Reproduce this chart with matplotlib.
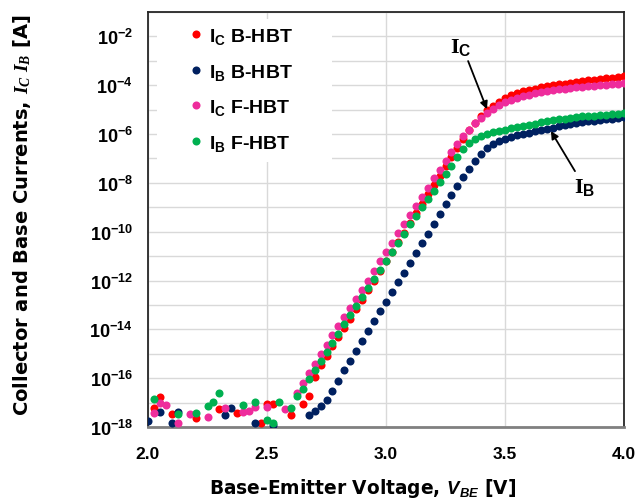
import numpy as np
import matplotlib
matplotlib.use("Agg")
import matplotlib.pyplot as plt
from matplotlib.patches import Rectangle
from matplotlib.ticker import FixedLocator, FuncFormatter, NullFormatter

plt.rcParams["mathtext.fontset"] = "custom"
plt.rcParams["mathtext.rm"] = "Liberation Sans:bold"
plt.rcParams["mathtext.bf"] = "Liberation Sans:bold"
plt.rcParams["mathtext.it"] = "Liberation Serif:bold:italic"
plt.rcParams["mathtext.sf"] = "Liberation Sans:bold:italic"
plt.rcParams["mathtext.tt"] = "Liberation Serif:bold"

# Base-emitter voltage sweep [V]
vbe = [2.000, 2.025, 2.050, 2.075, 2.100, 2.125, 2.150, 2.175, 2.200, 2.225,
       2.250, 2.275, 2.300, 2.325, 2.350, 2.375, 2.400, 2.425, 2.450, 2.475,
       2.500, 2.525, 2.550, 2.575, 2.600, 2.625, 2.650, 2.675, 2.700, 2.725,
       2.750, 2.775, 2.800, 2.825, 2.850, 2.875, 2.900, 2.925, 2.950, 2.975,
       3.000, 3.025, 3.050, 3.075, 3.100, 3.125, 3.150, 3.175, 3.200, 3.225,
       3.250, 3.275, 3.300, 3.325, 3.350, 3.375, 3.400, 3.425, 3.450, 3.475,
       3.500, 3.525, 3.550, 3.575, 3.600, 3.625, 3.650, 3.675, 3.700, 3.725,
       3.750, 3.775, 3.800, 3.825, 3.850, 3.875, 3.900, 3.925, 3.950, 3.975,
       4.000]

# log10 of measured current [A]; None = below floor / not measurable
log_ic_b = [None, -17.24, -16.79, None, -17.45, None, None, None, -17.65, None,
            None, None, -17.27, None, None, -17.41, None, None, None, -17.82,
            -17.07, -17.07, None, None, -17.52, None, -17.07, -16.73, -15.95, -15.48,
            -15.08, -14.70, -14.32, -13.94, -13.56, -13.18, -12.80, -12.40, -12.02, -11.62,
            -11.22, -10.83, -10.44, -10.04, -9.65, -9.25, -8.86, -8.47, -8.08, -7.70,
            -7.32, -6.94, -6.56, -6.19, -5.85, -5.53, -5.25, -5.03, -4.85, -4.67,
            -4.52, -4.41, -4.32, -4.25, -4.19, -4.14, -4.09, -4.04, -4.00, -3.96,
            -3.93, -3.89, -3.86, -3.83, -3.80, -3.77, -3.75, -3.72, -3.69, -3.67,
            -3.64]

log_ib_b = [-17.75, None, -17.38, None, -17.82, -17.37, None, None, None, None,
            None, None, None, -17.50, -17.24, None, None, None, -17.82, None,
            None, -17.93, None, None, None, None, None, -17.50, -17.36, -17.13,
            -16.89, -16.52, -16.11, -15.66, -15.29, -14.88, -14.47, -14.06, -13.65, -13.24,
            -12.87, -12.49, -12.08, -11.71, -11.29, -10.88, -10.48, -10.10, -9.69, -9.28,
            -8.87, -8.50, -8.14, -7.77, -7.43, -7.09, -6.82, -6.59, -6.42, -6.29,
            -6.19, -6.11, -6.05, -6.00, -5.95, -5.89, -5.83, -5.78, -5.74, -5.68,
            -5.63, -5.59, -5.55, -5.51, -5.48, -5.45, -5.42, -5.39, -5.37, -5.34,
            -5.32]

log_ic_f = [None, -17.41, -17.00, -17.09, None, -17.82, None, -17.48, None, None,
            -17.61, None, None, -17.24, None, None, -17.38, -17.34, -17.20, None,
            -17.20, None, None, -17.27, None, -16.60, -16.18, -15.80, -15.43, -15.03,
            -14.63, -14.25, -13.88, -13.50, -13.13, -12.76, -12.38, -12.00, -11.63, -11.22,
            -10.84, -10.47, -10.06, -9.69, -9.32, -8.94, -8.59, -8.20, -7.82, -7.46,
            -7.09, -6.75, -6.41, -6.09, -5.82, -5.56, -5.33, -5.14, -4.97, -4.83,
            -4.70, -4.60, -4.52, -4.45, -4.39, -4.33, -4.28, -4.24, -4.20, -4.17,
            -4.14, -4.11, -4.09, -4.07, -4.04, -4.02, -4.00, -3.98, -3.96, -3.93,
            -3.90]

log_ib_f = [None, -16.86, None, None, None, -17.48, None, None, -17.41, None,
            -17.16, -16.98, -16.59, None, None, None, -17.11, None, -16.97, None,
            -17.71, -17.82, -16.97, None, -17.24, -16.72, -16.45, -16.05, -15.68, -15.30,
            -14.92, -14.55, -14.17, -13.80, -13.42, -13.05, -12.68, -12.30, -11.93, -11.55,
            -11.18, -10.82, -10.45, -10.08, -9.70, -9.35, -9.00, -8.66, -8.32, -7.98,
            -7.64, -7.30, -6.95, -6.63, -6.38, -6.20, -6.07, -5.99, -5.93, -5.87,
            -5.82, -5.77, -5.72, -5.67, -5.62, -5.57, -5.52, -5.48, -5.44, -5.40,
            -5.37, -5.34, -5.31, -5.28, -5.26, -5.24, -5.22, -5.20, -5.18, -5.16,
            -5.14]

series = [
    (log_ic_b, "#FF0000", r"$\mathregular{I_C}$ B-HBT"),
    (log_ib_b, "#002060", r"$\mathregular{I_B}$ B-HBT"),
    (log_ic_f, "#EE2C9C", r"$\mathregular{I_C}$ F-HBT"),
    (log_ib_f, "#00B050", r"$\mathregular{I_B}$ F-HBT"),
]

W, H = 636, 502
fig = plt.figure(figsize=(W / 100, H / 100), dpi=100)
ax = fig.add_axes([148 / W, 1 - 428 / H, (624 - 148) / W, (428 - 13) / H])

v = np.array(vbe)
for logs, color, label in series:
    cur = np.array([np.nan if y is None else 10.0 ** y for y in logs])
    ax.plot(v, cur, linestyle="none", marker="o", ms=5.8, mew=0,
            color=color, label=label, clip_on=True, zorder=3)

ax.set_yscale("log")
ax.set_xlim(2.0, 4.0)
ax.set_ylim(1e-18, 1e-1)

ax.set_xticks([2.0, 2.5, 3.0, 3.5, 4.0])
ax.xaxis.set_major_formatter(FuncFormatter(lambda x, p: f"{x:.1f}"))
major_exp = list(range(-18, -1, 2))
ax.yaxis.set_major_locator(FixedLocator([10.0 ** e for e in major_exp]))
ax.yaxis.set_minor_locator(FixedLocator([10.0 ** e for e in range(-17, 0, 2)]))
ax.yaxis.set_minor_formatter(NullFormatter())
ax.yaxis.set_major_formatter(
    FuncFormatter(lambda y, p: r"$\mathbf{10^{%d}}$" % int(round(np.log10(y)))))

ax.tick_params(axis="both", which="both", length=0)
ax.tick_params(axis="x", pad=14, labelsize=12.5)
ax.tick_params(axis="y", pad=11, labelsize=13)
for lab in ax.get_xticklabels():
    lab.set_fontweight("bold")
    lab.set_family("Liberation Sans")

ax.grid(True, which="both", axis="y", color="#D9D9D9", lw=1.0)
ax.grid(True, which="major", axis="x", color="#D9D9D9", lw=1.0)
ax.set_axisbelow(True)

for side in ["top", "right", "left"]:
    ax.spines[side].set_color("#262626")
    ax.spines[side].set_linewidth(1.3)
ax.spines["bottom"].set_color("#808080")
ax.spines["bottom"].set_linewidth(2.0)

# white panel behind the legend entries (hides the gridlines there)
ax.add_patch(Rectangle((9 / 476, (428 - 163) / 415), 175 / 476, 143 / 415,
                       transform=ax.transAxes, facecolor="white",
                       edgecolor="none", zorder=1))
leg = ax.legend(loc="upper left", bbox_to_anchor=(0.0726, 0.985), frameon=False,
                prop={"family": "Liberation Sans", "weight": "bold", "size": 14},
                handlelength=0.6, handletextpad=0.35, labelspacing=0.80,
                borderpad=0.4, borderaxespad=0, markerscale=1.0)

fig.text(363 / W, 1 - 489 / H, r"Base-Emitter Voltage, $\mathsf{V_{BE}}$ [V]",
         ha="center", va="center", fontsize=13.4, fontweight="bold",
         family="DejaVu Sans")
fig.text(22 / W, 1 - 215 / H, r"Collector and Base Currents, $I_C\ I_B$ [A]",
         ha="center", va="center", rotation=90, fontsize=14, fontweight="bold",
         family="DejaVu Sans")

arrow = dict(arrowstyle="-|>", color="black", lw=1.3, mutation_scale=11,
             shrinkA=0, shrinkB=0)
ax.annotate("", xy=(3.424, 10 ** -4.98), xytext=(3.345, 10 ** -3.01), arrowprops=arrow)
ax.annotate("", xy=(3.693, 10 ** -5.88), xytext=(3.794, 10 ** -7.52), arrowprops=arrow)
ax.text(3.315, 10 ** -2.43, r"$\mathtt{I}_\mathrm{C}$", fontsize=16, ha="center", va="center")
ax.text(3.836, 10 ** -8.13, r"$\mathtt{I}_\mathrm{B}$", fontsize=16, ha="center", va="center")

fig.savefig("out.png", dpi=100)
